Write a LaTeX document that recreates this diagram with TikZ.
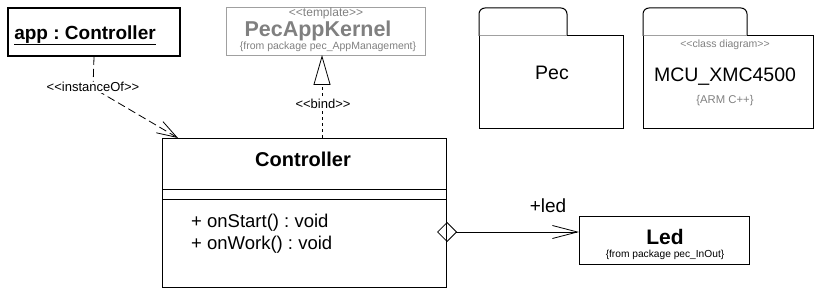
\documentclass[tikz,border=0pt]{standalone}
\usepackage{fontspec}
\setmainfont{Liberation Sans}
\usetikzlibrary{arrows.meta,calc}
\definecolor{lgray}{HTML}{A0A0A0}
\definecolor{tgray}{HTML}{808080}
\newcommand{\fs}[1]{\fontsize{#1}{#1}\selectfont}
\newcommand{\lgl}{<\kern0pt<}
\newcommand{\rgl}{>\kern0pt>}
\frenchspacing
\begin{document}
\begin{tikzpicture}[x=1pt,y=-1pt,
  box/.style={draw, line width=1pt, inner sep=0pt, anchor=north west},
  txt/.style={anchor=base, inner sep=0pt},
  conn/.style={line width=0.8pt},
  pkg/.style={draw, line width=1pt, rounded corners=6pt},
]
\useasboundingbox (0,0) rectangle (829,299);
% app : Controller
\node[box, line width=2pt, minimum width=172pt, minimum height=48pt] (app) at (7,7) {};
\node[txt, font=\fs{19}\bfseries] (appt) at (85,39.3) {\underline{app : Controller}};
% PecAppKernel
\node[box, draw=lgray, minimum width=199pt, minimum height=48pt] (kernel) at (226,7) {};
\node[txt, font=\fs{12}, text=tgray] (kt1) at (326,16.5) {\lgl template\rgl};
\node[txt, font=\fs{21.5}\bfseries, text=tgray] (kt2) at (318,36.5) {PecAppKernel};
\node[txt, font=\fs{10.5}, text=tgray] (kt3) at (328,49.5) {\{from package pec\_AppManagement\}};
% Controller class
\node[box, minimum width=284pt, minimum height=149pt] (ctrl) at (162,138) {};
\draw[line width=1pt] (162,189) -- (446,189);
\draw[line width=1pt] (162,199) -- (446,199);
\node[txt, font=\fs{20}\bfseries] (ct) at (303,166.5) {Controller};
\node[txt, anchor=base west, font=\fs{18.5}] (op1) at (191,227) {+ onStart() : void};
\node[txt, anchor=base west, font=\fs{18.5}] (op2) at (191,249) {+ onWork() : void};
% Led
\node[box, line width=1.2pt, minimum width=170pt, minimum height=48pt] (led) at (579,216) {};
\node[txt, font=\fs{21}\bfseries] (lt) at (665,244) {Led};
\node[txt, font=\fs{10.2}] (lt2) at (665,257) {\{from package pec\_InOut\}};
% Packages
\draw[pkg] (479,36) -- (479,8) -- (567,8) [sharp corners]-- (567,36);
\draw[line width=1pt] (567,36) -- (623,36) -- (623,129) -- (479,129) -- (479,36);
\draw[lgray, line width=1pt] (479.5,36) -- (567,36);
\node[txt, font=\fs{19.5}] (pec) at (552,80) {Pec};
\draw[pkg] (643,36) -- (643,8) -- (747,8) [sharp corners]-- (747,36);
\draw[line width=1pt] (747,36) -- (813,36) -- (813,129) -- (643,129) -- (643,36);
\draw[lgray, line width=1pt] (643.5,36) -- (747,36);
\node[txt, font=\fs{10.5}, text=tgray] (mcu1) at (725,48) {\lgl class diagram\rgl};
\node[txt, font=\fs{19.5}] (mcu) at (725,81.5) {MCU\_XMC4500};
\node[txt, font=\fs{11.3}, text=tgray] (mcu2) at (725,104) {\{ARM C++\}};
% instanceOf
\coordinate (bend) at (93,88);
\coordinate (itip) at (178,138);
\draw[conn, dash pattern=on 8pt off 4pt, -{Straight Barb[length=20pt,width=13pt]}] (app.south) -- (bend) -- (itip);
\node[txt, font=\fs{13}, fill=white, inner sep=1pt] (inst) at (93,92) {\lgl instanceOf\rgl};
% bind
\coordinate (bbot) at (322,138);
\coordinate (btop) at (322,55);
\draw[conn, dash pattern=on 3pt off 3pt, -{Triangle[open,length=30pt,width=17pt]}] (bbot) -- (btop);
\node[txt, font=\fs{13}, fill=white, inner sep=1pt] (bind) at (323,109) {\lgl bind\rgl};
% aggregation
\coordinate (aggs) at (437,232);
\coordinate (agge) at (579,232);
\draw[conn, {Diamond[open,length=20pt,width=20pt]}-{Straight Barb[length=25pt,width=13pt]}] (aggs) -- (agge);
\node[txt, font=\fs{19}] (pled) at (548,212.7) {+led};
\end{tikzpicture}
\end{document}
